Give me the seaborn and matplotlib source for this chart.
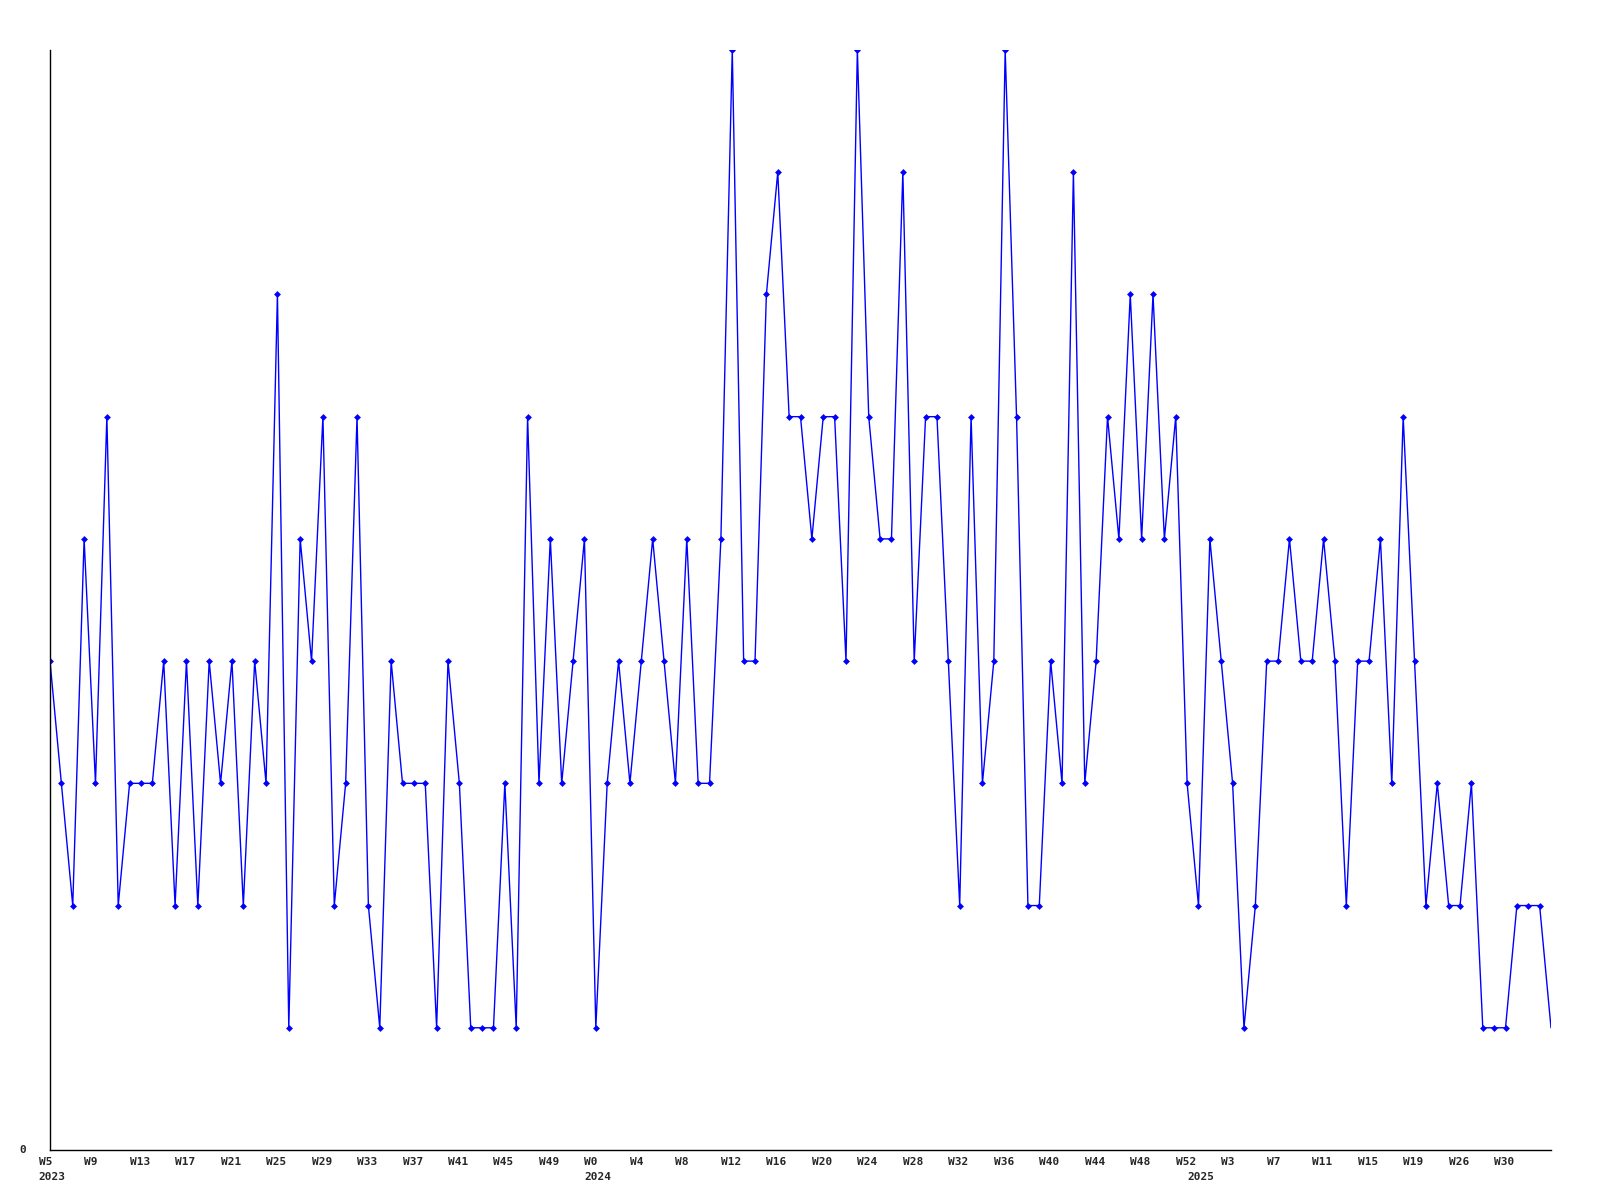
import seaborn as sns
import matplotlib.pyplot as plt
import pandas as pd

# weekly values, first point = 2023 W5
values = [
    4, 3, 2, 5, 3, 6, 2, 3, 3, 3, 4, 2, 4, 2, 4, 3, 4, 2, 4, 3,
    7, 1, 5, 4, 6, 2, 3, 6, 2, 1, 4, 3, 3, 3, 1, 4, 3, 1, 1, 1,
    3, 1, 6, 3, 5, 3, 4, 5, 1, 3, 4, 3, 4, 5, 4, 3, 5, 3, 3, 5,
    9, 4, 4, 7, 8, 6, 6, 5, 6, 6, 4, 9, 6, 5, 5, 8, 4, 6, 6, 4,
    2, 6, 3, 4, 9, 6, 2, 2, 4, 3, 8, 3, 4, 6, 5, 7, 5, 7, 5, 6,
    3, 2, 5, 4, 3, 1, 2, 4, 4, 5, 4, 4, 5, 4, 2, 4, 4, 5, 3, 6,
    4, 2, 3, 2, 2, 3, 1, 1, 1, 2, 2, 2, 1,
]

# labels shown every 4th week
week_labels = ["W5", "W9", "W13", "W17", "W21", "W25", "W29", "W33", "W37",
               "W41", "W45", "W49", "W0", "W4", "W8", "W12", "W16", "W20",
               "W24", "W28", "W32", "W36", "W40", "W44", "W48", "W52", "W3",
               "W7", "W11", "W15", "W19", "W26", "W30"]
week_idx = list(range(0, 132, 4))

# year labels at the first week of each year
years = ["2023", "2024", "2025"]
year_idx = [0, 48, 101]

df = pd.DataFrame({"i": range(len(values)), "v": values})

sns.set_style("white")
mono = ["DejaVu Sans Mono"]

fig = plt.figure(figsize=(16, 12), dpi=100)
ax = fig.add_axes([50 / 1600, 50 / 1200, 1501 / 1600, 1100 / 1200])

sns.lineplot(data=df, x="i", y="v", ax=ax, color="#0000ff", linewidth=1,
             marker="D", markersize=3.5, markeredgewidth=0,
             markevery=list(range(len(values) - 1)))

ax.set_xlim(0, len(values) - 1)
ax.set_ylim(0, 9)
ax.set_xticks([])
ax.set_yticks([])
ax.set_xlabel("")
ax.set_ylabel("")
for side in ["top", "right"]:
    ax.spines[side].set_visible(False)
for side in ["left", "bottom"]:
    ax.spines[side].set_color("black")
    ax.spines[side].set_linewidth(1)

px = 72 / 100  # points per pixel

for i, lab in zip(week_idx, week_labels):
    ax.annotate(lab, xy=(i - 1, 0), xycoords=("data", "axes fraction"),
                xytext=(0, -12 * px), textcoords="offset points",
                ha="left", va="center", fontsize=8, fontweight="bold",
                family=mono, annotation_clip=False)

for i, lab in zip(year_idx, years):
    ax.annotate(lab, xy=(i - 1, 0), xycoords=("data", "axes fraction"),
                xytext=(0, -27 * px), textcoords="offset points",
                ha="left", va="center", fontsize=8, fontweight="bold",
                family=mono, annotation_clip=False)

ax.annotate("0", xy=(0, 0), xycoords="axes fraction",
            xytext=(-27.5 * px, 0), textcoords="offset points",
            ha="center", va="center", fontsize=8, fontweight="bold",
            family=mono, annotation_clip=False)

fig.savefig("out.png", dpi=100, facecolor="white")
